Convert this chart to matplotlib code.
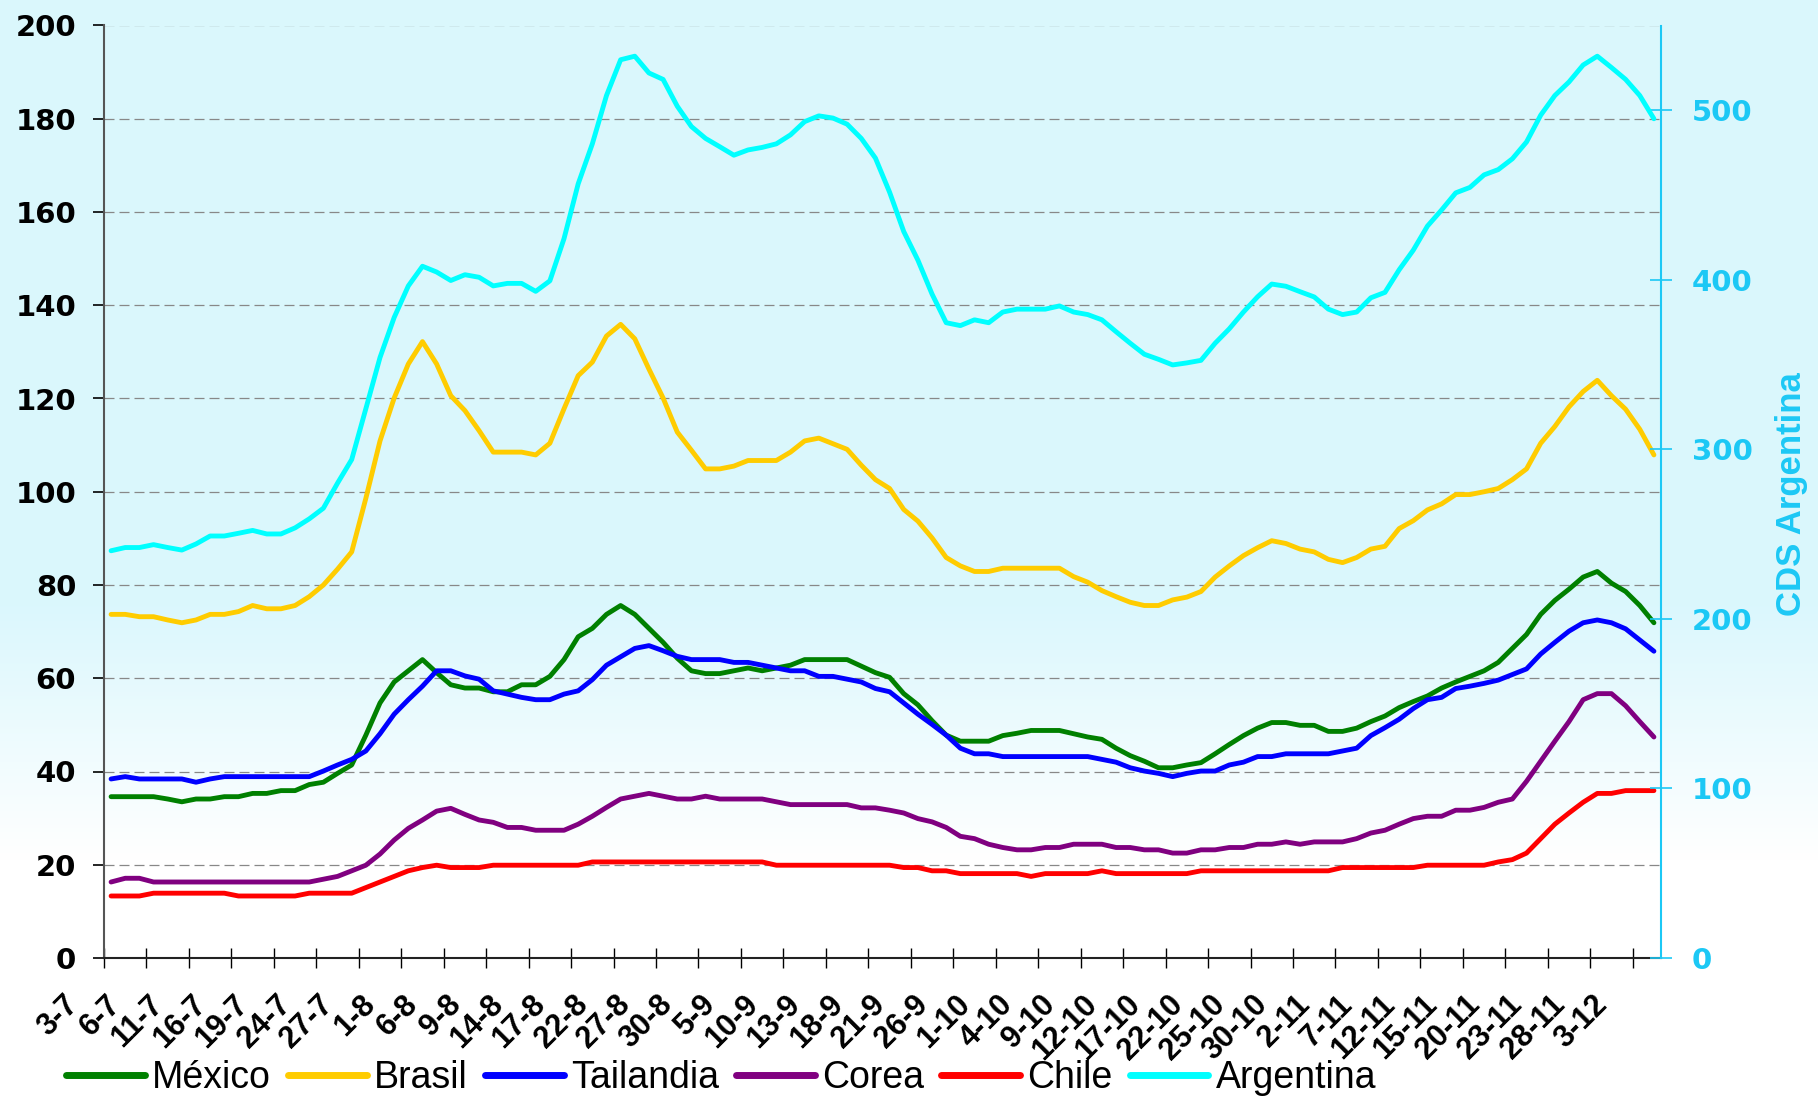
import matplotlib
matplotlib.use("Agg")
import matplotlib.pyplot as plt
import matplotlib.transforms as mtransforms
import numpy as np
from matplotlib.lines import Line2D

# etiquetas del eje x (una cada 3 observaciones)
fechas = ["3-7", "6-7", "11-7", "16-7", "19-7", "24-7", "27-7", "1-8", "6-8", "9-8",
          "14-8", "17-8", "22-8", "27-8", "30-8", "5-9", "10-9", "13-9", "18-9", "21-9",
          "26-9", "1-10", "4-10", "9-10", "12-10", "17-10", "22-10", "25-10", "30-10",
          "2-11", "7-11", "12-11", "15-11", "20-11", "23-11", "28-11", "3-12"]

mexico = [34.6, 34.6, 34.6, 34.6, 34.1, 33.5, 34.1, 34.1, 34.6, 34.6, 35.3, 35.3, 35.9, 35.9,
          37.2, 37.7, 39.6, 41.4, 47.8, 54.7, 59.2, 61.6, 64.0, 61.2, 58.6, 57.9, 57.9, 57.1,
          57.1, 58.6, 58.6, 60.4, 64.0, 68.9, 70.7, 73.7, 75.6, 73.7, 70.7, 67.7, 64.3, 61.6,
          61.0, 61.0, 61.6, 62.2, 61.6, 62.2, 62.8, 64.0, 64.0, 64.0, 64.0, 62.6, 61.2,
          60.2, 56.7, 54.3, 50.9, 47.8, 46.5, 46.5, 46.5, 47.7, 48.2, 48.8, 48.8, 48.8, 48.1,
          47.4, 46.9, 45.0, 43.4, 42.2, 40.8, 40.8, 41.4, 41.9, 43.8, 45.8, 47.7, 49.3,
          50.5, 50.5, 49.9, 49.9, 48.6, 48.6, 49.3, 50.7, 51.9, 53.7, 55.0, 56.2, 57.9, 59.2,
          60.4, 61.6, 63.4, 66.4, 69.4, 73.7, 76.7, 79.1, 81.7, 82.9, 80.4, 78.6, 75.6, 71.9]

brasil = [73.7, 73.7, 73.2, 73.2, 72.5, 71.9, 72.5, 73.7, 73.7, 74.3, 75.6, 74.9, 74.9, 75.6,
          77.5, 80.0, 83.4, 87.1, 98.6, 110.9, 120.1, 127.4, 132.2, 127.4, 120.6, 117.4, 113.1, 108.5,
          108.5, 108.5, 107.9, 110.4, 117.8, 124.9, 127.8, 133.4, 135.9, 132.8, 126.3, 120.1, 112.8,
          108.9, 104.9, 104.9, 105.5, 106.7, 106.7, 106.7, 108.5, 110.9, 111.5, 110.3, 109.1, 105.7, 102.6,
          100.7, 96.2, 93.7, 90.1, 85.9, 84.1, 82.9, 82.9, 83.6, 83.6, 83.6, 83.6, 83.6, 81.8,
          80.6, 78.8, 77.5, 76.3, 75.6, 75.6, 76.8, 77.4, 78.6, 81.7, 84.1, 86.3, 88.0,
          89.5, 88.9, 87.7, 87.1, 85.5, 84.8, 85.9, 87.7, 88.3, 92.1, 93.8, 96.1, 97.4, 99.4,
          99.4, 100.0, 100.7, 102.6, 104.9, 110.4, 114.0, 118.2, 121.5, 123.9, 120.6, 117.7, 113.4, 107.9]

tailandia = [38.4, 38.9, 38.4, 38.4, 38.4, 38.4, 37.7, 38.4, 38.9, 38.9, 38.9, 38.9, 38.9, 38.9,
             38.9, 40.1, 41.4, 42.6, 44.4, 48.1, 52.3, 55.4, 58.3, 61.6, 61.6, 60.5, 59.8, 57.3,
             56.6, 55.9, 55.4, 55.4, 56.6, 57.3, 59.7, 62.8, 64.6, 66.4, 67.0, 65.9, 64.7, 64.0,
             64.0, 64.0, 63.4, 63.4, 62.8, 62.2, 61.6, 61.6, 60.4, 60.4, 59.8, 59.2, 57.8,
             57.1, 54.7, 52.3, 50.1, 47.8, 45.0, 43.8, 43.8, 43.2, 43.2, 43.2, 43.2, 43.2, 43.2,
             43.2, 42.6, 42.0, 40.8, 40.1, 39.6, 38.9, 39.6, 40.1, 40.1, 41.4, 42.0, 43.2,
             43.2, 43.8, 43.8, 43.8, 43.8, 44.4, 45.0, 47.7, 49.4, 51.2, 53.5, 55.4, 55.9, 57.8,
             58.3, 58.9, 59.6, 60.8, 62.0, 65.2, 67.7, 70.1, 71.9, 72.5, 71.9, 70.6, 68.2, 65.8]

corea = [16.3, 17.1, 17.1, 16.3, 16.3, 16.3, 16.3, 16.3, 16.3, 16.3, 16.3, 16.3, 16.3, 16.3,
         16.3, 16.9, 17.5, 18.7, 19.9, 22.3, 25.3, 27.8, 29.6, 31.5, 32.1, 30.8, 29.6, 29.1,
         28.0, 28.0, 27.4, 27.4, 27.4, 28.7, 30.4, 32.3, 34.1, 34.7, 35.3, 34.7, 34.1, 34.1,
         34.7, 34.1, 34.1, 34.1, 34.1, 33.5, 32.9, 32.9, 32.9, 32.9, 32.9, 32.2, 32.2,
         31.7, 31.1, 29.9, 29.2, 28.0, 26.1, 25.6, 24.4, 23.7, 23.2, 23.2, 23.7, 23.7, 24.4,
         24.4, 24.4, 23.7, 23.7, 23.2, 23.2, 22.5, 22.5, 23.2, 23.2, 23.7, 23.7, 24.4,
         24.4, 24.9, 24.4, 24.9, 24.9, 24.9, 25.6, 26.8, 27.4, 28.7, 29.9, 30.4, 30.4, 31.7,
         31.7, 32.3, 33.4, 34.1, 37.9, 42.2, 46.5, 50.7, 55.4, 56.7, 56.7, 54.1, 50.7, 47.4]

chile = [13.3, 13.3, 13.3, 13.9, 13.9, 13.9, 13.9, 13.9, 13.9, 13.3, 13.3, 13.3, 13.3, 13.3,
         13.9, 13.9, 13.9, 13.9, 15.1, 16.3, 17.5, 18.7, 19.4, 19.9, 19.4, 19.4, 19.4, 19.9,
         19.9, 19.9, 19.9, 19.9, 19.9, 19.9, 20.6, 20.6, 20.6, 20.6, 20.6, 20.6, 20.6, 20.6,
         20.6, 20.6, 20.6, 20.6, 20.6, 19.9, 19.9, 19.9, 19.9, 19.9, 19.9, 19.9, 19.9,
         19.9, 19.4, 19.4, 18.7, 18.7, 18.1, 18.1, 18.1, 18.1, 18.1, 17.5, 18.1, 18.1, 18.1,
         18.1, 18.7, 18.1, 18.1, 18.1, 18.1, 18.1, 18.1, 18.7, 18.7, 18.7, 18.7, 18.7,
         18.7, 18.7, 18.7, 18.7, 18.7, 19.4, 19.4, 19.4, 19.4, 19.4, 19.4, 19.9, 19.9, 19.9,
         19.9, 19.9, 20.6, 21.1, 22.5, 25.6, 28.7, 31.1, 33.4, 35.3, 35.3, 35.9, 35.9, 35.9]

# CDS Argentina, eje derecho
argentina = [240.2, 242.1, 242.1, 243.8, 242.1, 240.6, 244.2, 248.9, 248.9, 250.5, 252.2, 250.1,
             250.1, 253.7, 259.0, 265.3, 280.1, 294.0, 324.0, 354.2, 377.8, 396.4, 408.0, 404.6,
             399.6, 403.0, 401.5, 396.4,
             397.9, 397.9, 393.2, 399.4, 424.3, 456.6, 480.2, 508.7, 529.8, 531.9, 522.0, 518.2,
             502.4, 490.4, 483.4, 478.5, 473.5, 476.6, 478.1, 480.2, 485.5, 493.3, 496.7, 495.4,
             491.8, 483.4, 471.8,
             451.7, 428.5, 411.6, 391.6, 374.7, 373.0, 376.4, 374.7, 381.0, 382.7, 382.7, 382.7,
             384.6, 381.0, 379.5, 376.4, 369.4, 362.6, 356.1, 353.1, 349.8, 351.0, 352.5, 362.6,
             371.1, 381.0, 390.0,
             397.5, 396.2, 393.0, 389.9, 382.7, 379.5, 381.0, 389.4, 392.6, 405.9, 417.5, 431.7,
             441.2, 451.3, 454.5, 461.9, 465.0, 471.4, 481.3, 497.1, 508.7, 516.7, 526.7, 531.9,
             525.2, 518.2, 508.7, 495.0]

series = [("México", mexico, "#008000"),
          ("Brasil", brasil, "#FFCC00"),
          ("Tailandia", tailandia, "#0000FF"),
          ("Corea", corea, "#800080"),
          ("Chile", chile, "#FF0000")]
arg_color = "#00FFFF"
axis_cyan = "#1CC8F5"

W, H = 1818, 1097
fig = plt.figure(figsize=(W / 100, H / 100), dpi=100)

# fondo degradado celeste -> blanco
bg = fig.add_axes([0, 0, 1, 1], zorder=-10)
rows = np.arange(H)
t = np.clip((rows - 600) / 260.0, 0, 1)
top = np.array([0.855, 0.969, 0.992])
grad = top[None, :] * (1 - t[:, None]) + t[:, None]
bg.imshow(grad[:, None, :], aspect="auto", extent=[0, 1, 0, 1])
bg.axis("off")

ax = fig.add_axes([104 / W, 1 - 958 / H, (1661 - 104) / W, (958 - 25.5) / H])
ax.patch.set_visible(False)
x = np.arange(len(mexico))

for name, vals, col in series:
    ax.plot(x, vals, color=col, lw=3.5, solid_capstyle="round", solid_joinstyle="round", zorder=3)

ax2 = ax.twinx()
ax2.patch.set_visible(False)
ax2.plot(x, argentina, color=arg_color, lw=3.5, solid_capstyle="round", solid_joinstyle="round")

ax.set_xlim(-0.5, len(x) - 0.5)
ax.set_ylim(0, 200)
ax2.set_ylim(0, 550)

ax.set_yticks(range(0, 201, 20))
ax.yaxis.grid(True, color="#888888", lw=0.9, linestyle=(0, (8, 4)), zorder=0)
ax.set_axisbelow(True)
ax.tick_params(axis="y", direction="out", length=8, width=1.2, pad=12, labelsize=21)
for lab in ax.get_yticklabels():
    lab.set_fontweight("bold")
    lab.set_family("DejaVu Sans")

ax.set_xticks(np.arange(len(fechas)) * 3 - 0.5)
ax.set_xticklabels(fechas, rotation=45, ha="right", va="center", rotation_mode="anchor",
                   fontsize=22, fontweight="bold", family="Liberation Sans")
ax.tick_params(axis="x", direction="inout", length=14, width=1, pad=17)
# las etiquetas rotadas quedan algo a la izquierda de su marca, como en el original
shift = mtransforms.ScaledTranslation(-0.30, -0.09, fig.dpi_scale_trans)
for lab in ax.get_xticklabels():
    lab.set_transform(lab.get_transform() + shift)

ax.spines["top"].set_visible(False)
ax.spines["right"].set_visible(False)
ax.spines["left"].set_color("#555555")
ax.spines["left"].set_linewidth(1.5)
ax.spines["bottom"].set_color("#222222")
ax.spines["bottom"].set_linewidth(1.5)

for s in ["top", "left", "bottom"]:
    ax2.spines[s].set_visible(False)
ax2.spines["right"].set_color(axis_cyan)
ax2.spines["right"].set_linewidth(1.5)
ax2.set_yticks(range(0, 501, 100))
ax2.tick_params(axis="y", direction="inout", length=16, width=1.2, color=axis_cyan,
                labelcolor=axis_cyan, pad=14, labelsize=21)
for lab in ax2.get_yticklabels():
    lab.set_fontweight("bold")
    lab.set_family("DejaVu Sans")

fig.text(1791 / W, 1 - 494 / H, "CDS Argentina", rotation=90, ha="center", va="center",
         color=axis_cyan, fontsize=25, fontweight="bold", family="Liberation Sans")

handles = [Line2D([], [], color=c, lw=5, solid_capstyle="round") for _, _, c in series]
handles.append(Line2D([], [], color=arg_color, lw=5, solid_capstyle="round"))
labels = [n for n, _, _ in series] + ["Argentina"]
fig.legend(handles, labels, loc="center left", bbox_to_anchor=(66 / W, 1 - 1078 / H), ncol=6,
           frameon=False, prop={"family": "Liberation Sans", "size": 27},
           handlelength=2.1, handletextpad=0.2, columnspacing=0.45,
           borderpad=0, borderaxespad=0)

fig.savefig("out.png", dpi=100)
